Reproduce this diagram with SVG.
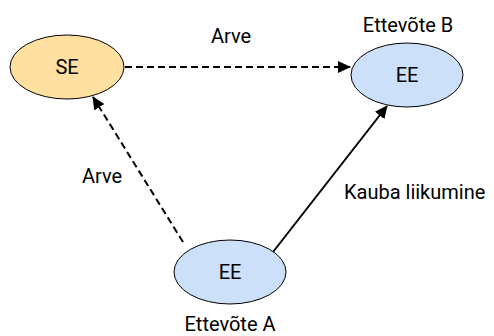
<svg xmlns="http://www.w3.org/2000/svg" width="494" height="336" viewBox="0 0 494 336">
<style>
text{font-family:Roboto,"Liberation Sans",sans-serif;font-size:20px;fill:#000}
.c{text-anchor:middle}
.node{stroke:#000;stroke-width:1}
.se{fill:#FFE0A0}
.ee{fill:#CCE0FA}
.edge{stroke:#000;stroke-width:2;fill:none}
.dash{stroke-dasharray:7 4}
</style>
<defs>
<marker id="arr" markerWidth="13" markerHeight="12" refX="12" refY="6" orient="auto" markerUnits="userSpaceOnUse">
<path d="M0,0 L13,6 L0,12 Z" fill="#000"/>
</marker>
</defs>
<rect width="494" height="336" fill="#fff"/>
<g id="connectors">
<line class="edge dash" x1="125" y1="67" x2="350" y2="67" marker-end="url(#arr)"/>
<line class="edge dash" x1="183" y1="242" x2="93" y2="97" marker-end="url(#arr)"/>
<line class="edge" x1="273" y1="252" x2="387" y2="106" marker-end="url(#arr)"/>
<text class="c" x="231" y="43">Arve</text>
<text class="c" x="102" y="183">Arve</text>
<text x="344" y="199">Kauba liikumine</text>
</g>
<g id="SE">
<ellipse class="node se" cx="67" cy="67" rx="57" ry="32"/>
<text class="c" x="67" y="74">SE</text>
</g>
<g id="EttevoteB">
<ellipse class="node ee" cx="407" cy="75" rx="56" ry="32"/>
<text class="c" x="407" y="82">EE</text>
<text class="c" x="408" y="32">Ettevõte B</text>
</g>
<g id="EttevoteA">
<ellipse class="node ee" cx="230" cy="272" rx="56" ry="32"/>
<text class="c" x="230" y="279">EE</text>
<text class="c" x="230" y="331">Ettevõte A</text>
</g>
</svg>
